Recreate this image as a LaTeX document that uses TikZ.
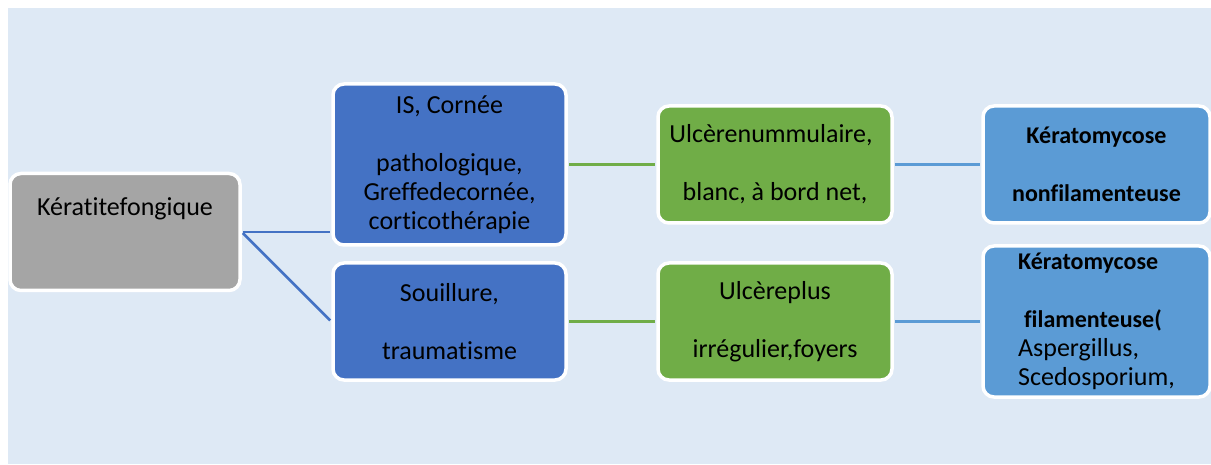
\documentclass[tikz,border=0pt]{standalone}
\usepackage{fontspec}
\setmainfont{Carlito}[Ligatures=NoCommon]
\usetikzlibrary{positioning}

\definecolor{bgblue}{HTML}{DEE9F5}
\definecolor{rootgrey}{HTML}{A5A5A5}
\definecolor{causeblue}{HTML}{4472C4}
\definecolor{ulcergreen}{HTML}{70AD47}
\definecolor{typeblue}{HTML}{5B9BD5}

\newcommand{\kerabold}[1]{{\fontsize{24pt}{29pt}\selectfont\bfseries #1}}

\begin{document}
\begin{tikzpicture}[
    x=1pt,
    y=-1pt,
    every node/.style={
        font=\fontsize{26pt}{29pt}\selectfont
    },
    box/.style={
        draw=white,
        line width=3.5pt,
        rounded corners=11pt,
        align=center,
        inner sep=0pt,
        text=black,
        minimum width=232pt,
        minimum height=117pt
    },
    link/.style={
        line width=2.5pt,
        shorten <=1.5pt,
        shorten >=1.5pt
    }
]

    % Canvas
    \useasboundingbox (0,0) rectangle (1211,465);
    \fill[bgblue] (8,8) rectangle (1211,464);

    % Root
    \node[
        box,
        fill=rootgrey,
        minimum width=230pt,
        text depth=50pt
    ] (root) at (125,232)
        {Kératitefongique};

    % Causes
    \node[
        box,
        fill=causeblue,
        minimum width=233pt,
        minimum height=161pt
    ] (cause1) at (449.5,164.5)
        {IS, Cornée\\[29pt]pathologique,\\Greffedecornée,\\corticothérapie};

    \node[
        box,
        fill=causeblue,
        minimum width=233pt
    ] (cause2) at (449.5,321.5)
        {Souillure,\\[29pt]traumatisme};

    % Ulcers
    \node[
        box,
        fill=ulcergreen,
        minimum width=234pt
    ] (ulcer1) at (775,164.5)
        {Ulcèrenummulaire,\hspace*{8pt}\\[29pt]blanc, à bord net,};

    \node[
        box,
        fill=ulcergreen,
        minimum width=234pt
    ] (ulcer2) at (775,321.5)
        {Ulcèreplus\\[29pt]irrégulier,foyers};

    % Keratomycoses
    \node[
        box,
        fill=typeblue,
        minimum width=227pt
    ] (kera1) at (1096.5,164.5)
        {\kerabold{Kératomycose}\\[29pt]\kerabold{nonfilamenteuse}};

    \node[
        box,
        fill=typeblue,
        minimum width=227pt,
        minimum height=151pt,
        align=left
    ] (kera2) at (1096.5,321.5)
        {\kerabold{Kératomycose}\\[29pt]\hspace*{6pt}\kerabold{filamenteuse(}\\Aspergillus,\\Scedosporium,};

    % Connectors
    \draw[link, causeblue] (root.east) -- (root.east -| cause1.west);
    \draw[link, causeblue] (root.east) -- (cause2.west);

    \draw[link, ulcergreen] (cause1.east) -- (cause1.east -| ulcer1.west);
    \draw[link, ulcergreen] (cause2.east) -- (cause2.east -| ulcer2.west);

    \draw[link, typeblue] (ulcer1.east) -- (ulcer1.east -| kera1.west);
    \draw[link, typeblue] (ulcer2.east) -- (ulcer2.east -| kera2.west);

\end{tikzpicture}
\end{document}
